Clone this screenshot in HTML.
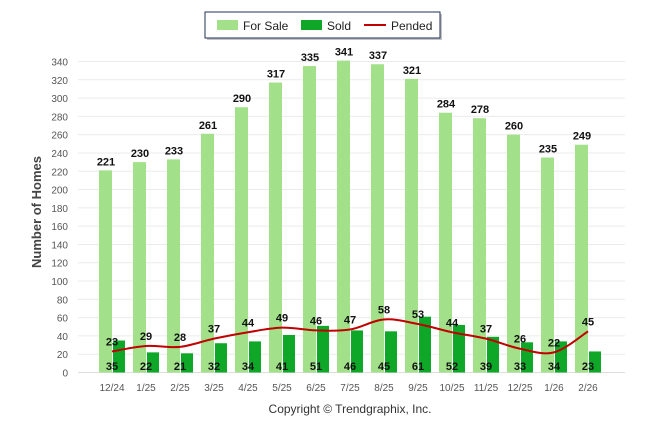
<!DOCTYPE html>
<html><head><meta charset="utf-8"><style>
body{margin:0;background:#fff;}
svg text{font-family:"Liberation Sans",Arial,sans-serif;}
</style></head><body>
<svg id="c" width="646" height="434" xmlns="http://www.w3.org/2000/svg">
<g>
<rect x="207" y="14" width="235" height="26" fill="#888" opacity="0.5"/>
<rect x="205" y="12" width="235" height="26" fill="#fff" stroke="#1f2f55" stroke-width="1"/>
<rect x="217" y="20" width="21" height="10" fill="#a2e08a"/>
<text x="243" y="30" font-size="12" fill="#222">For Sale</text>
<rect x="301" y="20" width="21" height="10" fill="#0ea728"/>
<text x="327" y="30" font-size="12" fill="#222">Sold</text>
<line x1="364" y1="25" x2="386" y2="25" stroke="#c00000" stroke-width="2"/>
<text x="391" y="30" font-size="12" fill="#222">Pended</text>
</g>
<text transform="translate(41,212) rotate(-90)" text-anchor="middle" font-size="13" font-weight="bold" fill="#444">Number of Homes</text>
<text x="350" y="413" text-anchor="middle" font-size="12" fill="#333">Copyright © Trendgraphix, Inc.</text>
<g id="grid"></g><g id="bars"></g><g id="line"></g><g id="labels"></g>
</svg>
<script>
const categories=["12/24","1/25","2/25","3/25","4/25","5/25","6/25","7/25","8/25","9/25","10/25","11/25","12/25","1/26","2/26"];
const forSale=[221,230,233,261,290,317,335,341,337,321,284,278,260,235,249];
const sold=[35,22,21,32,34,41,51,46,45,61,52,39,33,34,23];
const pended=[23,29,28,37,44,49,46,47,58,53,44,37,26,22,45];
const yTicks=[0,20,40,60,80,100,120,140,160,180,200,220,240,260,280,300,320,340];
const NS="http://www.w3.org/2000/svg";
const y0=372.5,yk=311/340;
const Y=v=>y0-v*yk;
const X=i=>112+i*34;
function el(t,a,p,txt){const e=document.createElementNS(NS,t);for(const k in a)e.setAttribute(k,a[k]);if(txt!==undefined)e.textContent=txt;document.getElementById(p).appendChild(e);return e;}
yTicks.forEach(v=>{
 const g=el('line',{x1:78,x2:625,y1:Y(v),y2:Y(v),stroke:'#ebebeb','stroke-width':1},'grid');
 
 
 const t=el('text',{x:68,y:Y(v)+4,'text-anchor':'end','font-size':10,fill:'#555'},'grid',v);
 
 
});
const ax=el('line',{x1:78,x2:625,y1:y0,y2:y0,stroke:'#ddd'},'grid');


categories.forEach((c,i)=>{
 const cx=X(i);
 const b=el('rect',{x:cx-13,y:Y(forSale[i]),width:13,height:forSale[i]*yk,fill:'#a2e08a'},'bars');
 
 
 const s=el('rect',{x:cx+1,y:Y(sold[i]),width:12,height:sold[i]*yk,fill:'#0ea728'},'bars');
 
 
 const t=el('text',{x:cx,y:391,'text-anchor':'middle','font-size':10,fill:'#555'},'labels',c);
 
 
 const l1=el('text',{x:cx-6,y:Y(forSale[i])-5,'text-anchor':'middle','font-size':11,'font-weight':'bold',fill:'#111'},'labels',forSale[i]);
 
 
 const l2=el('text',{x:cx,y:370,'text-anchor':'middle','font-size':11,'font-weight':'bold',fill:'#111'},'labels',sold[i]);
 
 
 const l3=el('text',{x:cx,y:Y(pended[i])-6,'text-anchor':'middle','font-size':11,'font-weight':'bold',fill:'#111'},'labels',pended[i]);
 
 
});
const pts=pended.map((v,i)=>[X(i),Y(v)]);
let d='M'+pts[0][0]+','+pts[0][1];
for(let i=0;i<pts.length-1;i++){
 const p0=pts[Math.max(0,i-1)],p1=pts[i],p2=pts[i+1],p3=pts[Math.min(pts.length-1,i+2)];
 const t=6;
 d+=' C'+(p1[0]+(p2[0]-p0[0])/t)+','+(p1[1]+(p2[1]-p0[1])/t)+' '+(p2[0]-(p3[0]-p1[0])/t)+','+(p2[1]-(p3[1]-p1[1])/t)+' '+p2[0]+','+p2[1];
}
const ln=el('path',{d:d,fill:'none',stroke:'#c00000','stroke-width':2},'line');


</script>
</body></html>
